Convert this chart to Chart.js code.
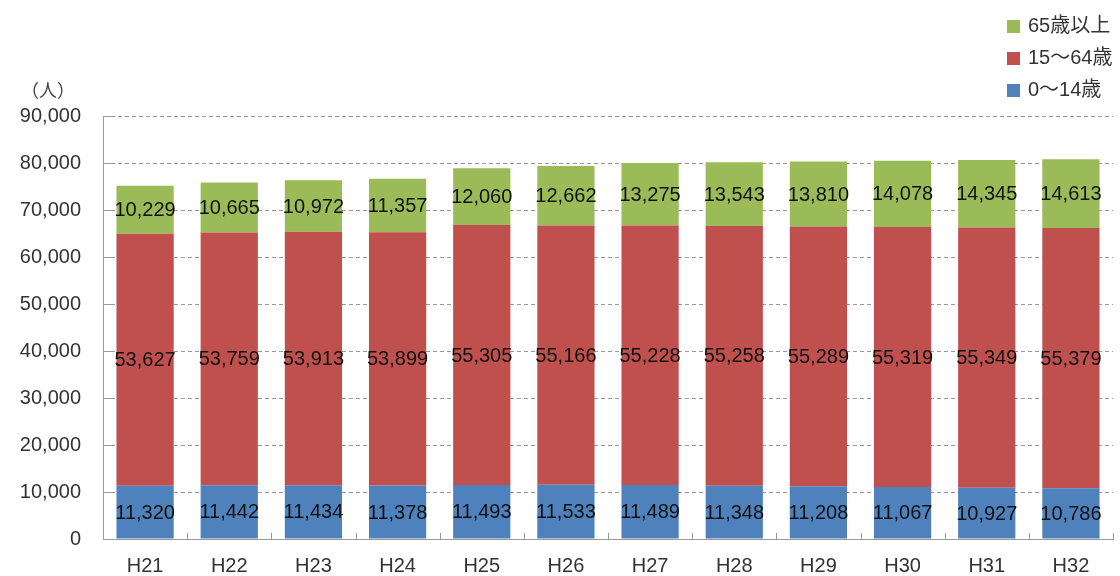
<!DOCTYPE html>
<html><head><meta charset="utf-8">
<script src="https://cdn.jsdelivr.net/npm/chart.js@4/dist/chart.umd.min.js"></script>
<style>
html,body{margin:0;padding:0;background:#fff;}
#wrap{position:relative;width:1120px;height:576px;}
canvas{position:absolute;left:0;top:0;}
.lg{position:absolute;left:1007px;font:20px "Liberation Sans","Noto Sans CJK JP",sans-serif;color:#333;line-height:24px;white-space:nowrap;}
.lg span{display:inline-block;width:13px;height:13px;margin-right:8px;vertical-align:-1px;}
#unit{position:absolute;left:21px;top:78px;font:18px "Noto Sans CJK JP",sans-serif;color:#444;line-height:22px;}
</style></head>
<body><div id="wrap">
<canvas id="c" width="1120" height="576"></canvas>
<div class="lg" style="top:13px"><span style="background:#9BBB59"></span>65歳以上</div>
<div class="lg" style="top:45px"><span style="background:#C0504D"></span>15～64歳</div>
<div class="lg" style="top:77px"><span style="background:#4F81BD"></span>0～14歳</div>
<div id="unit">（人）</div>
</div>
<script>
const categories = ['H21','H22','H23','H24','H25','H26','H27','H28','H29','H30','H31','H32'];
const age0to14 = [11320,11442,11434,11378,11493,11533,11489,11348,11208,11067,10927,10786];
const age15to64 = [53627,53759,53913,53899,55305,55166,55228,55258,55289,55319,55349,55379];
const age65plus = [10229,10665,10972,11357,12060,12662,13275,13543,13810,14078,14345,14613];
const seriesNames = ['0～14歳','15～64歳','65歳以上'];
const yTicks = [0,10000,20000,30000,40000,50000,60000,70000,80000,90000];

const FONT = '"Liberation Sans","Noto Sans CJK JP",sans-serif';

const labelPlugin = {
  id: 'segLabels',
  afterDatasetsDraw(chart) {
    const ctx = chart.ctx;
    ctx.save();
    ctx.font = '20px ' + FONT;
    ctx.textAlign = 'center';
    ctx.textBaseline = 'middle';
    ctx.fillStyle = '#111';
    chart.data.datasets.forEach((ds, di) => {
      const meta = chart.getDatasetMeta(di);
      meta.data.forEach((el, i) => {
        const p = el.getCenterPoint();
        ctx.fillText(ds.data[i].toLocaleString('en-US'), p.x, p.y + 1);
      });
    });
    ctx.restore();
  }
};

const tickPlugin = {
  id: 'innerTicks',
  afterDraw(chart) {
    const ctx = chart.ctx, a = chart.chartArea;
    const ys = chart.scales.y;
    ctx.save();
    ctx.strokeStyle = '#999';
    ctx.lineWidth = 1;
    ctx.beginPath();
    yTicks.forEach(v => {
      const y = Math.round(ys.getPixelForValue(v)) + 0.5;
      ctx.moveTo(a.left, y); ctx.lineTo(a.left + 10, y);
    });
    const w = (a.right - a.left) / categories.length;
    for (let i = 1; i <= categories.length; i++) {
      const x = Math.round(a.left + w * i) + 0.5;
      ctx.moveTo(x, a.bottom); ctx.lineTo(x, a.bottom - 6);
    }
    ctx.stroke();
    ctx.restore();
  }
};

new Chart(document.getElementById('c'), {
  type: 'bar',
  data: {
    labels: categories,
    datasets: [
      {label: seriesNames[0], data: age0to14, backgroundColor: '#4F81BD'},
      {label: seriesNames[1], data: age15to64, backgroundColor: '#C0504D'},
      {label: seriesNames[2], data: age65plus, backgroundColor: '#9BBB59'}
    ]
  },
  options: {
    responsive: false,
    animation: false,
    events: [],
    layout: {padding: {left: 20, right: 7, top: 116, bottom: 0}},
    plugins: {legend: {display: false}, tooltip: {enabled: false}},
    datasets: {bar: {categoryPercentage: 0.68, barPercentage: 1.0}},
    scales: {
      x: {
        stacked: true,
        grid: {display: false},
        border: {display: true, color: '#999', width: 1},
        ticks: {font: {size: 20, family: FONT}, color: '#333', padding: 7, maxRotation: 0},
        afterFit: (s) => { s.height = 37; }
      },
      y: {
        stacked: true,
        min: 0, max: 90000,
        afterBuildTicks: (s) => { s.ticks = yTicks.map(v => ({value: v})); },
        afterFit: (s) => { s.width = 83; },
        grid: {color: '#999', drawTicks: false, lineWidth: 1},
        border: {display: true, color: '#999', width: 1, dash: [4, 3]},
        ticks: {
          font: {size: 20, family: FONT}, color: '#333', padding: 22,
          callback: (v) => Number(v).toLocaleString('en-US')
        }
      }
    }
  },
  plugins: [labelPlugin, tickPlugin]
});
</script>
</body></html>
